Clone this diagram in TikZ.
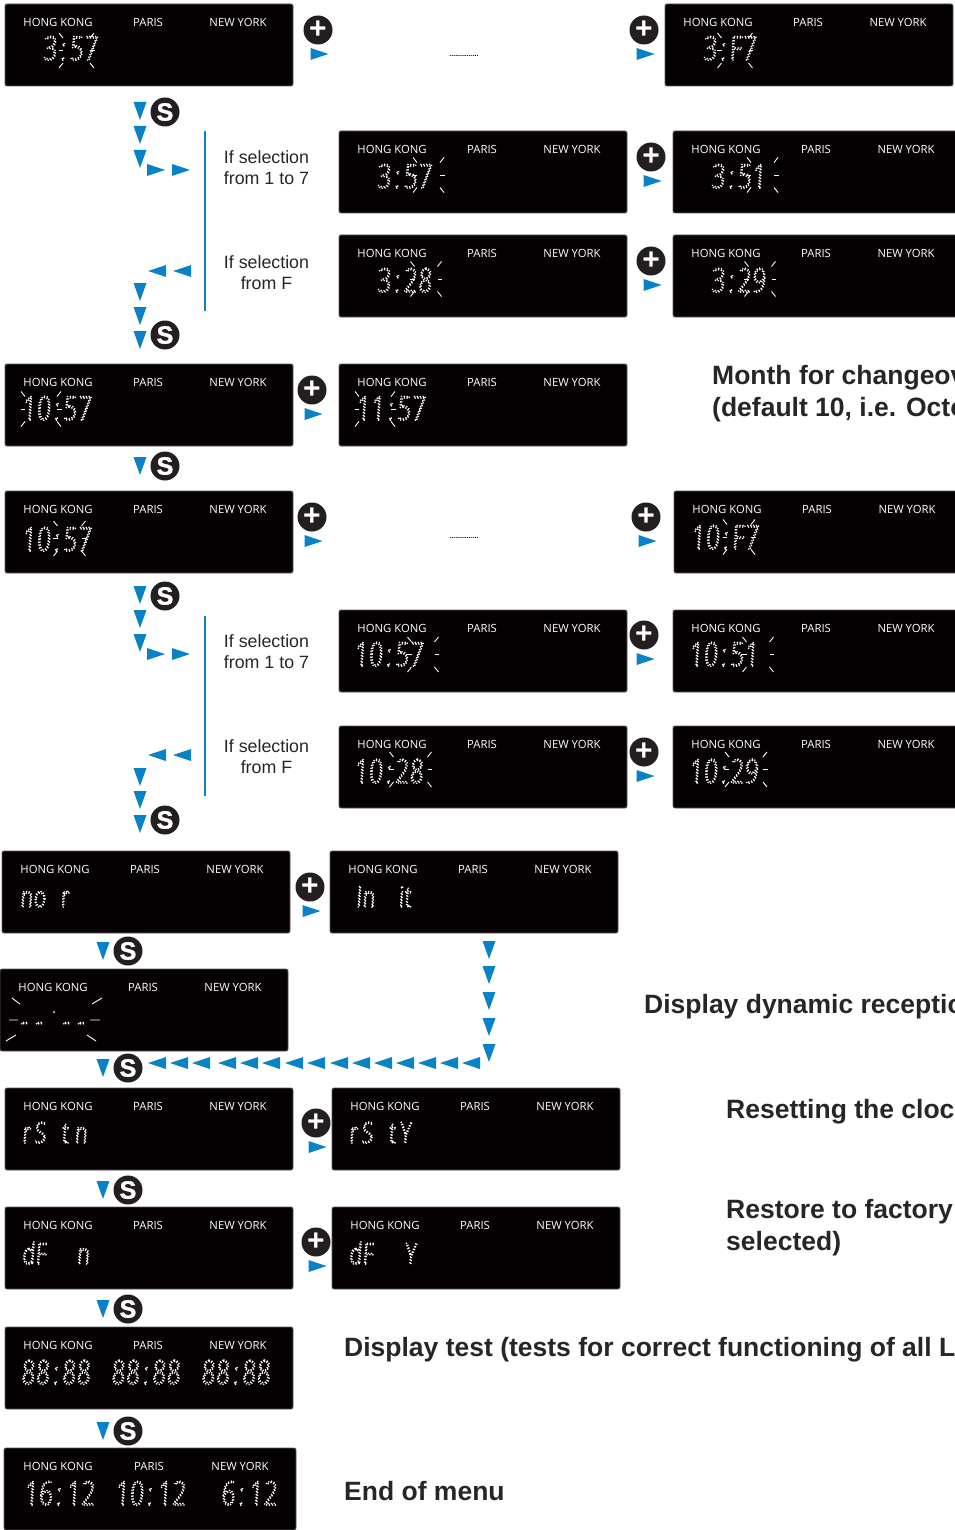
\documentclass[tikz,border=0pt]{standalone}
\usepackage{fontspec}
\setmainfont{Liberation Sans}
\newfontfamily\cityfont{Open Sans}
\newfontfamily\ledfont[FakeSlant=0.06,FakeStretch=0.72,LetterSpace=3]{Open Sans Light}
\usetikzlibrary{calc}
\definecolor{ledblack}{HTML}{050002}
\definecolor{knob}{HTML}{231F20}
\definecolor{tipblue}{HTML}{0A82C8}
\newcommand{\ledtext}[1]{\special{pdf:code 1 Tr 1.8 w [0 2.9] 0 d 1 J 1 1 1 RG}#1\special{pdf:code 0 Tr [] 0 d 0 J}}
\newcommand{\clk}[2]{#1\kern3.5pt:\kern3.5pt#2}
\tikzset{lcd/.style={draw=black!65, fill=ledblack, line width=0.8pt, rounded corners=2pt, minimum width=288pt, minimum height=82pt, inner sep=0pt},
  city/.style={font=\cityfont\fontsize{11.3}{13}\selectfont, text=white, inner sep=0pt},
  readout/.style={font=\ledfont\fontsize{33}{36}\selectfont, text=white, anchor=base west, inner sep=0pt},
  readlow/.style={readout, font=\ledfont\fontsize{29}{32}\selectfont},
  ray/.style={draw=white, line width=0.9pt},
  tip/.style={fill=tipblue, draw=none},
  knobplus/.style={circle, fill=knob, minimum size=29pt, inner sep=0pt, text=white, font=\bfseries\fontsize{30}{30}\selectfont},
  knobs/.style={circle, fill=knob, minimum size=29pt, inner sep=0pt, text=white, font=\bfseries\addfontfeature{FakeBold=1.5}\fontsize{25}{25}\selectfont},
  note/.style={font=\fontsize{17.8}{21}\selectfont, text=black!85, align=center, inner sep=0pt},
  head/.style={font=\bfseries\fontsize{26.5}{32}\selectfont, text=black!85, anchor=base west, inner sep=0pt},
  dots/.style={font=\bfseries\fontsize{7}{7}\selectfont, inner sep=0pt},
  rays/.pic={
    \draw[ray] (-\w,-17.5) -- (-\w+4,-12.5);
    \draw[ray] (\w,-17.5) -- (\w-4,-12.5);
    \draw[ray] (-\w,17.5) -- (-\w+4,12.5);
    \draw[ray] (\w,17.5) -- (\w-4,12.5);
    \draw[ray] (-\w-0.5,0) -- (-\w+4,0);
    \draw[ray] (\w+0.5,0) -- (\w-4,0);
  }}

\begin{document}
\begin{tikzpicture}[x=1pt,y=-1pt]
  \useasboundingbox (0,0) rectangle (954,1530);
  % displays
  \foreach \n/\x/\y in {a/149/45, b/809/45, c/483/172, d/817/172, e/483/276, f/817/276,
      g/149/405, h/483/405, i/149/532, j/818/532, k/483/651, l/817/651, m/483/767, o/817/767,
      p/146/892, q/474/892, r/144/1010, s/149/1129, t/476/1129, u/149/1248, v/476/1248, w/149/1368}{
    \node[lcd] (\n) at (\x,\y) {};
    \node[city] (\n hk) at ($(\n.center)+(-91,-22.5)$) {HONG KONG};
    \node[city] (\n pa) at ($(\n.center)+(-1,-22.5)$) {PARIS};
    \node[city] (\n ny) at ($(\n.center)+(89,-22.5)$) {NEW YORK};}
  \node[lcd, minimum width=292pt] (x) at (150,1489) {};
  \node[city] (x hk) at (58,1466.5) {HONG KONG};
  \node[city] (x pa) at (149,1466.5) {PARIS};
  \node[city] (x ny) at (240,1466.5) {NEW YORK};
  % readouts
  \foreach \n/\x/\y/\t in {a/43/60/\clk{3}{57}, b/703/60/\clk{3}{F7}, c/377/188/\clk{3}{57}, d/711/188/\clk{3}{51}, e/377/292/\clk{3}{28}, f/711/292/\clk{3}{29},
      g/22/420/\clk{10}{57}, h/356/420/\clk{11}{57}, i/22/551/\clk{10}{57}, j/691/549/\clk{10}{F7}, k/354/666/\clk{10}{57}, l/689/666/\clk{10}{51},
      m/354/783/\clk{10}{28}, o/689/783/\clk{10}{29}, w/21/1384/\clk{88}{88}, w2/111/1384/\clk{88}{88}, w3/201/1384/\clk{88}{88},
      x/24/1505/16\kern3.5pt:\kern5pt12, x2/115/1505/10\kern3.5pt:\kern5pt12, x3/221/1505/6\kern3.5pt:\kern5pt12, r/20/1032/- -, r2/62/1032/- -}{
    \node[readout] (\n led) at (\x,\y) {\ledtext{\t}};}
  \foreach \n/\x/\y/\t in {p/20/907/no\kern15pt r, q/356/907/In\kern24pt it, s/22/1143/r\kern4pt S\kern16pt t\kern6pt n, t/349/1143/r\kern4pt S\kern16pt t\kern4pt Y,
      u/22/1264/dF\kern31pt n, v/349/1264/dF\kern32pt Y}{
    \node[readlow] (\n led) at (\x,\y) {\ledtext{\t}};}
  % blinking
  \foreach \x/\y/\r in {76.5/50.5/17.5, 735/50.5/17.5, 428.5/175/15.5, 762.5/175/15.5, 426/279/15.5, 760/279/15.5,
      41/409/20, 375/409/20, 69.5/538.5/16, 739/537/16, 423/654.5/15.5, 758/654.5/15.5, 410.5/769.5/21, 746/769.5/21}{
    \pgfmathsetmacro{\w}{\r}
    \pic at (\x,\y) {rays};}
  \draw[ray] (12,998) -- (20,1004) (102,998) -- (92,1004) (9,1020) -- (18,1020) (100,1020) -- (90,1020) (6,1041) -- (16,1035) (96,1041) -- (87,1035);
  \fill[white] (54,1012) circle (1pt);
  % plus knobs
  \foreach \i/\x/\y in {1/318/30, 2/644/30, 3/651/157, 4/651/261, 5/312/390, 6/312/517, 7/646/517, 8/644/635, 9/644/752, 10/310/887, 11/316/1123, 12/316/1242}{
    \node[knobplus] (pl\i) at (\x,\y) {\raisebox{-1pt}{+}};
    \fill[tip] ($(pl\i.center)+(-7.5,18)$) -- ++(18,6) -- ++(-18,6) -- cycle;}
  % s knobs
  \foreach \i/\x/\y in {1/165/112, 2/165/335, 3/165/466, 4/165/596, 5/165/820, 6/128/951, 7/128/1068, 8/128/1190, 9/128/1309, 10/128/1431}{
    \node[knobs] (sk\i) at (\x,\y) {S};}
  % down tips
  \foreach \x/\y in {140/111, 140/135, 140/159, 140/292, 140/316, 140/340, 140/466, 140/595, 140/619, 140/643, 140/777, 140/800, 140/824,
      103/951, 103/1068, 103/1190, 103/1309, 103/1431, 489/950, 489/975, 489/1001, 489/1027, 489/1053}{
    \fill[tip] (\x-6.5,\y-9) -- ++(13,0) -- ++(-6.5,18) -- cycle;}
  % right tips
  \foreach \x/\y in {156/170, 181/170, 156/654, 181/654}{
    \fill[tip] (\x-9,\y-6) -- ++(18,6) -- ++(-18,6) -- cycle;}
  % left tips
  \foreach \x/\y in {157/271, 182/271, 157/755, 182/755, 157/1063, 179/1063, 201/1063, 227/1063, 249/1063, 271/1063, 294/1063,
      316/1063, 339/1063, 361/1063, 383/1063, 405/1063, 427/1063, 449/1063, 471/1063}{
    \fill[tip] (\x+9,\y-6) -- ++(-18,6) -- ++(18,6) -- cycle;}
  % brackets
  \draw[tipblue, line width=1.4pt] (205,131) -- (205,311);
  \draw[tipblue, line width=1.4pt] (205,616) -- (205,796);
  % notes
  \foreach \n/\y/\t in {n1/168/{If selection\\from 1 to 7}, n2/273/{If selection\\from F}, n3/652/{If selection\\from 1 to 7}, n4/757/{If selection\\from F}}{
    \node[note] (\n) at (266.5,\y) {\t};}
  \node[dots] (ell1) at (464,55.5) {...............};
  \node[dots] (ell2) at (464,537.5) {...............};
  % headings
  \node[head] (h1) at (712,384) {Month for changeov};
  \node[head] (h1b) at (712,416) {(default 10, i.e. Octo};
  \node[head] (h2) at (644,1013) {Display dynamic receptio};
  \node[head] (h3) at (726,1118) {Resetting the cloc};
  \node[head] (h4) at (726,1218) {Restore to factory};
  \node[head] (h4b) at (726,1250) {selected)};
  \node[head] (h5) at (344,1356) {Display test (tests for correct functioning of all L};
  \node[head] (h6) at (344,1500) {End of menu};
\end{tikzpicture}
\end{document}
